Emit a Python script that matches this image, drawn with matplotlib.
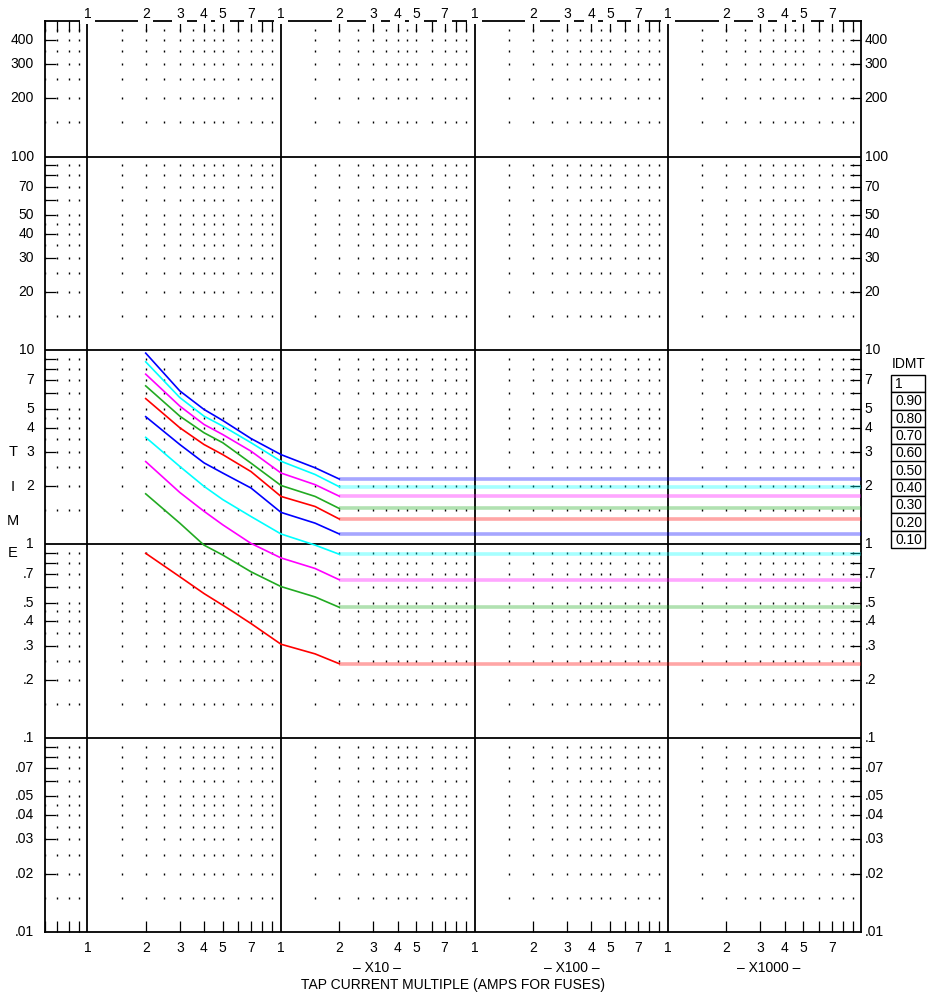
import matplotlib
matplotlib.use("Agg")
import numpy as np
import matplotlib.pyplot as plt
from matplotlib.patches import Rectangle
from matplotlib.transforms import offset_copy

plt.rcParams['font.family'] = ['Liberation Sans', 'DejaVu Sans']

multiples = [2, 3, 4, 5, 7, 10, 15, 20]
flat_end = 9860   # curves run flat to the right edge after 20x

# operating time (s) for each IDMT setting
t_100 = [9.68, 6.18, 4.96, 4.35, 3.51, 2.90, 2.48, 2.17]
t_090 = [8.73, 5.71, 4.58, 4.07, 3.34, 2.68, 2.29, 1.98]
t_080 = [7.54, 5.16, 4.15, 3.68, 3.02, 2.33, 2.03, 1.77]
t_070 = [6.56, 4.58, 3.76, 3.34, 2.62, 2.01, 1.765, 1.53]
t_060 = [5.64, 3.99, 3.27, 2.90, 2.37, 1.765, 1.566, 1.35]
t_050 = [4.55, 3.27, 2.63, 2.33, 1.95, 1.46, 1.285, 1.13]
t_040 = [3.56, 2.52, 1.99, 1.70, 1.39, 1.13, 0.99, 0.888]
t_030 = [2.67, 1.85, 1.48, 1.26, 1.01, 0.85, 0.75, 0.656]
t_020 = [1.82, 1.285, 0.99, 0.88, 0.721, 0.605, 0.535, 0.473]
t_010 = [0.898, 0.68, 0.557, 0.485, 0.39, 0.305, 0.272, 0.242]

curves = [t_100, t_090, t_080, t_070, t_060, t_050, t_040, t_030, t_020, t_010]
idmt_labels = ["1", "0.90", "0.80", "0.70", "0.60", "0.50", "0.40", "0.30", "0.20", "0.10"]
colors = ["#0000ff", "#00ffff", "#ff00ff", "#22aa22", "#ff0000"] * 2

# axis labels
x_digits = [1, 2, 3, 4, 5, 7]
x_decades = [1, 10, 100, 1000]
y_vals = [400, 300, 200, 100, 70, 50, 40, 30, 20, 10, 7, 5, 4, 3, 2, 1,
          0.7, 0.5, 0.4, 0.3, 0.2, 0.1, 0.07, 0.05, 0.04, 0.03, 0.02, 0.01]
y_text = ["400", "300", "200", "100", "70", "50", "40", "30", "20", "10", "7", "5", "4", "3", "2", "1",
          ".7", ".5", ".4", ".3", ".2", ".1", ".07", ".05", ".04", ".03", ".02", ".01"]

xmin, xmax = 0.6, 9860
ymin, ymax = 0.01, 500

W, H = 930, 999
fig = plt.figure(figsize=(W / 100, H / 100), dpi=100)
ax = fig.add_axes([44.5 / W, 1 - 932 / H, (860.5 - 44.5) / W, (932 - 21) / H])
ax.set_xscale('log')
ax.set_yscale('log')
ax.set_xlim(xmin, xmax)
ax.set_ylim(ymin, ymax)

# dotted grid at the minor positions
mults = [1.5, 2, 2.5, 3, 3.5, 4, 4.5, 5, 6, 7, 8, 9]
gx = [m * d for d in [0.1, 1, 10, 100, 1000] for m in mults]
gx = [v for v in gx if xmin < v < xmax]
gy = [m * d for d in [0.01, 0.1, 1, 10, 100] for m in mults]
gy = [v for v in gy if ymin < v < ymax]
GX, GY = np.meshgrid(gx, gy)
ax.scatter(GX.ravel(), GY.ravel(), marker='|', s=4, c='k', linewidths=1.0, zorder=1)

for v in [1, 10, 100, 1000]:
    ax.axvline(v, color='k', lw=1.3, zorder=2)
for v in [0.1, 1, 10, 100]:
    ax.axhline(v, color='k', lw=1.3, zorder=2)

# ticks (integer minor positions only)
tx = [m * d for d in [0.1, 1, 10, 100, 1000] for m in range(2, 10)]
tx = [v for v in tx if xmin < v < xmax]
ty = [m * d for d in [0.01, 0.1, 1, 10, 100] for m in range(2, 10)]
ty = [v for v in ty if ymin < v < ymax]
ax.set_xticks([], minor=False)
ax.set_yticks([], minor=False)
ax.set_xticks(tx, minor=True)
ax.set_yticks(ty, minor=True)
ax.tick_params(which='minor', direction='in', length=8, width=0.9,
               top=True, right=True, bottom=True, left=True,
               labelbottom=False, labelleft=False, labeltop=False, labelright=False)
for s in ax.spines.values():
    s.set_linewidth(1.3)

# curves
for t, c in zip(curves, colors):
    ax.plot(multiples, t, color=c, lw=1.2, zorder=3)
    ax.plot([multiples[-1], flat_end], [t[-1], t[-1]], color=c, lw=2.6, alpha=0.35,
            solid_capstyle='butt', zorder=3)

# x labels, top and bottom
top_tr = offset_copy(ax.get_xaxis_transform(), fig=fig, y=3, units='dots')
bot_tr = offset_copy(ax.get_xaxis_transform(), fig=fig, y=-16, units='dots')
for d in x_decades:
    for m in x_digits:
        ax.text(m * d, 1.0, str(m), transform=top_tr, ha='center', va='baseline', fontsize=10,
                bbox=dict(boxstyle='square,pad=0.25', fc='white', ec='none'), zorder=5, clip_on=False)
        ax.text(m * d, 0.0, str(m), transform=bot_tr, ha='center', va='center', fontsize=10,
                clip_on=False)

# y labels, left and right
left_tr = offset_copy(ax.get_yaxis_transform(), fig=fig, x=-10.5, units='dots')
right_tr = offset_copy(ax.get_yaxis_transform(), fig=fig, x=4, units='dots')
for v, s in zip(y_vals, y_text):
    ax.text(0.0, v, s, transform=left_tr, ha='right', va='center', fontsize=10, clip_on=False)
    ax.text(1.0, v, s, transform=right_tr, ha='left', va='center', fontsize=10, clip_on=False)

# side and bottom captions
for ch, yp in zip("TIME", [452, 487, 521, 553]):
    fig.text(13 / W, 1 - yp / H, ch, ha='center', va='center', fontsize=10.5)
fig.text(377 / W, 1 - 968 / H, "– X10 –", ha='center', va='center', fontsize=10)
fig.text(572 / W, 1 - 968 / H, "– X100 –", ha='center', va='center', fontsize=10)
fig.text(769 / W, 1 - 968 / H, "– X1000 –", ha='center', va='center', fontsize=10)
fig.text(453 / W, 1 - 985 / H, "TAP CURRENT MULTIPLE (AMPS FOR FUSES)", ha='center', va='center',
         fontsize=10)

# IDMT key
fig.text(909 / W, 1 - 364 / H, "IDMT", ha='center', va='center', fontsize=10)
row_h = 17.3
for i, lab in enumerate(idmt_labels):
    y0 = 375 + row_h * i
    fig.add_artist(Rectangle((891 / W, 1 - (y0 + row_h) / H), 34 / W, row_h / H,
                             transform=fig.transFigure, fc='white', ec='black', lw=1.0))
    fig.text(895 / W, 1 - (y0 + row_h / 2 + 0.5) / H, lab, ha='left', va='center', fontsize=10)

fig.savefig('out.png', dpi=100)
